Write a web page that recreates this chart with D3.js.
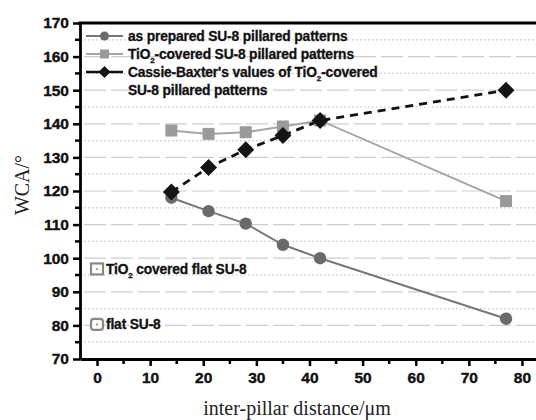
<!DOCTYPE html>
<html><head><meta charset="utf-8">
<script src="https://cdn.jsdelivr.net/npm/d3@7"></script>
<style>body{margin:0;background:#fff}svg{display:block}</style>
</head><body>
<svg id="c" width="536" height="420"></svg>
<script>
const distances = [14, 21, 28, 35, 42, 77];
const asPrepared = [118, 114, 110.3, 104, 100, 82];
const tio2Covered = [138, 137, 137.5, 139.2, 141, 117];
const cassieBaxter = [119.7, 127, 132.3, 136.5, 141, 150];
const flatPoints = [{x: 0, y: 96.8, label: "TiO2 covered flat SU-8", shape: "square"}, {x: 0, y: 80.3, label: "flat SU-8", shape: "round"}];
const xTicks = [0, 10, 20, 30, 40, 50, 60, 70, 80];
const yTicks = [70, 80, 90, 100, 110, 120, 130, 140, 150, 160, 170];
const legendLabels = ["as prepared SU-8 pillared patterns", "TiO2-covered SU-8 pillared patterns", "Cassie-Baxter's values of TiO2-covered", "SU-8 pillared patterns"];

const svg = d3.select("#c");
const L = 80, R = 536, T = 23, B = 359;
const x = d3.scaleLinear().domain([-3.2, 82.64]).range([L, R]);
const y = d3.scaleLinear().domain([70, 170]).range([B, T]);

// grid
const g = svg.append("g");
for (let v = 75; v < 170; v += 5) {
  const major = v % 10 === 0;
  g.append("line").attr("x1", L + 4).attr("x2", R).attr("y1", y(v)).attr("y2", y(v))
    .attr("stroke", major ? "#cdcdcd" : "#c4c4c4").attr("stroke-width", 1.2)
    .attr("stroke-dasharray", major ? "22,5" : "1.5,2.5");
}

// axes
const bold = "'Liberation Sans', Arial, sans-serif";
const xAxis = d3.axisBottom(x).tickValues(xTicks).tickSize(7).tickPadding(6).tickSizeOuter(0);
const xa = svg.append("g").attr("transform", `translate(0,${B})`).call(xAxis);
const yAxis = d3.axisLeft(y).tickValues(yTicks).tickSize(7).tickPadding(4).tickSizeOuter(0);
const ya = svg.append("g").attr("transform", `translate(${L},0)`).call(yAxis);
[xa, ya].forEach(a => {
  a.select(".domain").attr("stroke", "#000").attr("stroke-width", 2.8);
  a.selectAll(".tick line").attr("stroke", "#000").attr("stroke-width", 2.5);
  a.selectAll(".tick text").attr("font-family", bold).attr("font-weight", "bold")
    .attr("font-size", 15.5).attr("fill", "#111").attr("stroke", "#111").attr("stroke-width", 0.4);
});
// minor ticks
const minorX = d3.range(5, 85, 10);
xa.selectAll(".minor").data(minorX).enter().append("line").attr("class", "minor")
  .attr("x1", d => x(d)).attr("x2", d => x(d)).attr("y1", 0).attr("y2", 5)
  .attr("stroke", "#000").attr("stroke-width", 2.5);
const minorY = d3.range(75, 170, 10);
ya.selectAll(".minor").data(minorY).enter().append("line").attr("class", "minor")
  .attr("y1", d => y(d)).attr("y2", d => y(d)).attr("x1", 0).attr("x2", -5)
  .attr("stroke", "#000").attr("stroke-width", 2.5);
// top border
svg.append("line").attr("x1", L - 1.4).attr("x2", R).attr("y1", T).attr("y2", T)
  .attr("stroke", "#000").attr("stroke-width", 2.8);

// axis titles
svg.append("text").attr("x", 297).attr("y", 415).attr("text-anchor", "middle")
  .attr("font-family", "'Liberation Serif', 'Times New Roman', serif").attr("font-size", 20)
  .attr("fill", "#222").text("inter-pillar distance/\u03BCm");
svg.append("text").attr("transform", `translate(29,185) rotate(-90)`)
  .attr("text-anchor", "middle")
  .attr("font-family", "'Liberation Serif', 'Times New Roman', serif").attr("font-size", 20)
  .attr("fill", "#222").text("WCA/\u00B0");

const line = d3.line().x(d => x(d[0])).y(d => y(d[1]));
const s1 = distances.map((d, i) => [d, asPrepared[i]]);
const s2 = distances.map((d, i) => [d, tio2Covered[i]]);
const s3 = distances.map((d, i) => [d, cassieBaxter[i]]);

const c1 = "#6a6a6a", c2 = "#9a9a9a", c2l = "#a5a5a5";

svg.append("path").attr("d", line(s1)).attr("fill", "none").attr("stroke", "#777").attr("stroke-width", 2);
svg.append("path").attr("d", line(s2)).attr("fill", "none").attr("stroke", c2l).attr("stroke-width", 2);
svg.append("path").attr("d", line(s3)).attr("fill", "none").attr("stroke", "#111").attr("stroke-width", 2.8).attr("stroke-dasharray", "8,6");

function diamondPath(cx, cy, r) { return `M${cx},${cy - r}L${cx + r},${cy}L${cx},${cy + r}L${cx - r},${cy}Z`; }

svg.selectAll(".p1").data(s1).enter().append("circle")
  .attr("cx", d => x(d[0])).attr("cy", d => y(d[1])).attr("r", 6.2).attr("fill", c1);
svg.selectAll(".p2").data(s2).enter().append("rect")
  .attr("x", d => x(d[0]) - 6).attr("y", d => y(d[1]) - 6).attr("width", 12).attr("height", 12).attr("fill", c2);
svg.selectAll(".p3").data(s3).enter().append("path")
  .attr("d", d => diamondPath(x(d[0]), y(d[1]), 8.5)).attr("fill", "#141414");

const labelFont = (t) => t.attr("font-family", bold).attr("font-weight", "bold").attr("font-size", 13.8)
  .attr("letter-spacing", -0.15).attr("fill", "#111").attr("stroke", "#111").attr("stroke-width", 0.3);

// flat points
flatPoints.forEach(p => {
  const cx = x(p.x), cy = y(p.y);
  svg.append("rect").attr("x", cx - 6).attr("y", cy - 5.5).attr("width", 12).attr("height", 11)
    .attr("rx", p.shape === "round" ? 3 : 0)
    .attr("fill", "#fff").attr("stroke", "#888").attr("stroke-width", 2.2);
  svg.append("circle").attr("cx", cx).attr("cy", cy).attr("r", 0.9).attr("fill", "#777");
  const t = svg.append("text").attr("x", cx + 9).attr("y", cy + 5).call(labelFont);
  if (p.label.startsWith("TiO2")) {
    t.append("tspan").text("TiO");
    t.append("tspan").attr("font-size", 8).attr("dy", 4).text("2");
    t.append("tspan").attr("dy", -4).text(p.label.slice(4));
  } else t.text(p.label);
});

// legend
const lx1 = 86, lx2 = 123, tx = 128;
const rows = [36, 54, 72, 90];
function legendText(yy, label) {
  const t = svg.append("text").attr("x", tx).attr("y", yy + 5).call(labelFont);
  const idx = label.indexOf("TiO2");
  if (idx >= 0) {
    t.append("tspan").text(label.slice(0, idx + 3));
    t.append("tspan").attr("font-size", 8).attr("dy", 4).text("2");
    t.append("tspan").attr("dy", -4).text(label.slice(idx + 4));
  } else t.text(label);
}
svg.append("line").attr("x1", lx1).attr("x2", lx2).attr("y1", rows[0]).attr("y2", rows[0]).attr("stroke", "#777").attr("stroke-width", 2);
svg.append("circle").attr("cx", (lx1 + lx2) / 2).attr("cy", rows[0]).attr("r", 4.5).attr("fill", c1);
svg.append("line").attr("x1", lx1).attr("x2", lx2).attr("y1", rows[1]).attr("y2", rows[1]).attr("stroke", c2l).attr("stroke-width", 2);
svg.append("rect").attr("x", (lx1 + lx2) / 2 - 4.5).attr("y", rows[1] - 4.5).attr("width", 9).attr("height", 9).attr("fill", c2);
svg.append("line").attr("x1", lx1).attr("x2", lx2).attr("y1", rows[2]).attr("y2", rows[2]).attr("stroke", "#111").attr("stroke-width", 2.5);
svg.append("path").attr("d", diamondPath((lx1 + lx2) / 2, rows[2], 6)).attr("fill", "#141414");
legendLabels.forEach((lab, i) => legendText(rows[i], lab));
</script>
</body></html>
